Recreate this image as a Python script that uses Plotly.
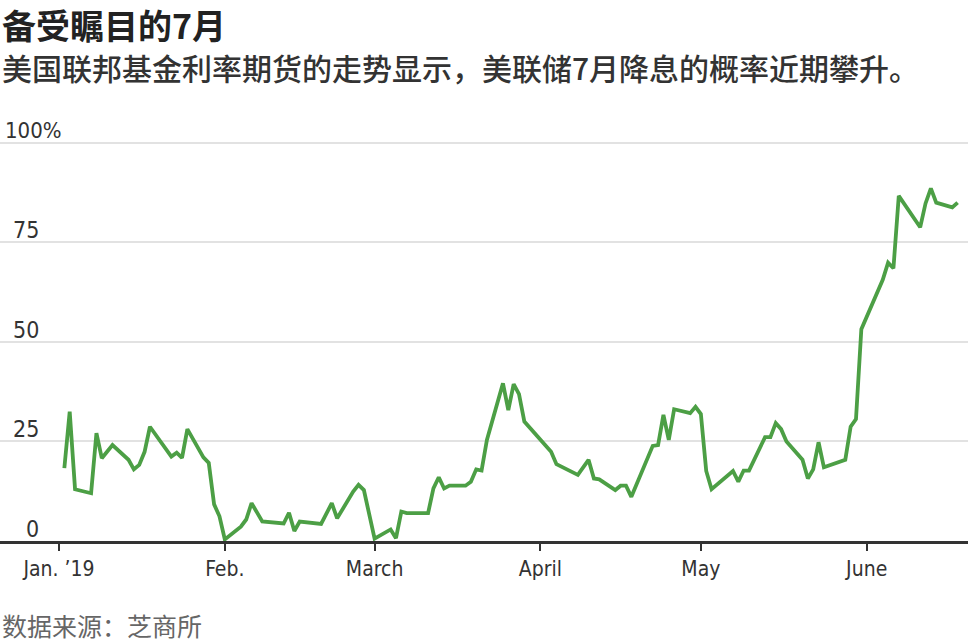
import plotly.graph_objects as go

# ---- data ----
dates = [
    "2019-01-02", "2019-01-03", "2019-01-04", "2019-01-07", "2019-01-08", "2019-01-09",
    "2019-01-11", "2019-01-14", "2019-01-15", "2019-01-16", "2019-01-17", "2019-01-18",
    "2019-01-22", "2019-01-23", "2019-01-24", "2019-01-25", "2019-01-28", "2019-01-29",
    "2019-01-30", "2019-01-31", "2019-02-01", "2019-02-04", "2019-02-05", "2019-02-06",
    "2019-02-08", "2019-02-12", "2019-02-13", "2019-02-14", "2019-02-15", "2019-02-19",
    "2019-02-21", "2019-02-22", "2019-02-25", "2019-02-26", "2019-02-27", "2019-03-01",
    "2019-03-04", "2019-03-05", "2019-03-06", "2019-03-07", "2019-03-11", "2019-03-12",
    "2019-03-13", "2019-03-14", "2019-03-15", "2019-03-18", "2019-03-19", "2019-03-20",
    "2019-03-21", "2019-03-22", "2019-03-25", "2019-03-26", "2019-03-27", "2019-03-28",
    "2019-03-29", "2019-04-02", "2019-04-03", "2019-04-04", "2019-04-08", "2019-04-10",
    "2019-04-11", "2019-04-12", "2019-04-15", "2019-04-16", "2019-04-17", "2019-04-18",
    "2019-04-22", "2019-04-23", "2019-04-24", "2019-04-25", "2019-04-26", "2019-04-29",
    "2019-04-30", "2019-05-01", "2019-05-02", "2019-05-03", "2019-05-07", "2019-05-08",
    "2019-05-09", "2019-05-10", "2019-05-13", "2019-05-14", "2019-05-15", "2019-05-16",
    "2019-05-17", "2019-05-20", "2019-05-21", "2019-05-22", "2019-05-23", "2019-05-24",
    "2019-05-28", "2019-05-29", "2019-05-30", "2019-05-31", "2019-06-04", "2019-06-05",
    "2019-06-06", "2019-06-07", "2019-06-11", "2019-06-12", "2019-06-13", "2019-06-14",
    "2019-06-17", "2019-06-18",
]
probability = [
    18.3, 32.5, 13.0, 12.0, 27.1, 20.8,
    24.1, 20.4, 18.0, 19.1, 22.4, 28.7,
    21.2, 22.2, 20.9, 28.1, 21.0, 19.6,
    9.2, 6.2, 0.4, 3.6, 5.4, 9.5,
    4.9, 4.4, 7.1, 2.5, 4.9, 4.3,
    9.5, 5.7, 12.4, 14.1, 12.8, 0.6,
    2.9, 0.7, 7.4, 7.0, 7.0, 13.2,
    16.0, 13.2, 13.9, 13.9, 14.9, 18.0,
    17.7, 25.4, 39.6, 32.9, 39.4, 36.9,
    30.0, 24.1, 22.4, 19.3, 16.6, 20.4,
    15.7, 15.5, 12.8, 13.9, 13.9, 11.1,
    23.9, 24.1, 31.7, 25.4, 33.1, 32.1,
    33.7, 31.9, 17.6, 13.0, 17.6, 14.9,
    17.7, 17.7, 26.1, 26.1, 29.6, 28.1,
    25.0, 20.4, 15.7, 18.0, 24.8, 18.5,
    20.4, 28.7, 30.6, 53.2, 65.6, 69.9,
    68.5, 86.7, 78.8, 84.8, 88.6, 85.0,
    83.8, 85.0,
]

month_ticks = ["2019-01-01", "2019-02-01", "2019-03-01", "2019-04-01", "2019-05-01", "2019-06-01"]
month_labels = ["Jan. \u201919", "Feb.", "March", "April", "May", "June"]

y_ticks = [0, 25, 50, 75, 100]
y_labels = ["0", "25", "50", "75", "100%"]

title = "备受瞩目的7月"
subtitle = "美国联邦基金利率期货的走势显示，美联储7月降息的概率近期攀升。"
source = "数据来源：芝商所"

CJK = "Noto Sans CJK SC"
NARROW = "Liberation Sans Narrow, DejaVu Sans Condensed, Roboto, sans-serif"

fig = go.Figure()
fig.add_trace(go.Scatter(
    x=dates, y=probability, mode="lines",
    line=dict(color="#4c9f45", width=3.8),
    hoverinfo="skip", showlegend=False,
))

fig.update_layout(
    width=968, height=644,
    margin=dict(l=0, r=0, t=123, b=103),
    paper_bgcolor="white", plot_bgcolor="white",
    showlegend=False,
    xaxis=dict(
        type="date",
        range=["2018-12-20 23:17", "2019-06-19 22:34"],
        tickvals=month_ticks, ticktext=month_labels,
        ticks="outside", ticklen=7, tickwidth=2, tickcolor="#333333",
        showgrid=False, zeroline=False,
        showline=True, linecolor="#333333", linewidth=2.5,
        tickfont=dict(family=NARROW, size=21, color="#333333"),
        fixedrange=True,
    ),
    yaxis=dict(
        range=[0, 105],
        tickvals=y_ticks, showticklabels=False,
        showgrid=True, gridcolor="#e2e2e2", gridwidth=2,
        zeroline=False, showline=False,
        fixedrange=True,
    ),
)

for v, lab in zip(y_ticks, y_labels):
    if lab.endswith("%"):
        fig.add_annotation(x=3 / 968, xref="paper", xanchor="left",
                           y=v, yref="y", yanchor="middle", yshift=12,
                           text=lab, showarrow=False,
                           font=dict(family=NARROW, size=22, color="#333333"))
    else:
        fig.add_annotation(x=41 / 968, xref="paper", xanchor="right",
                           y=v, yref="y", yanchor="middle", yshift=12,
                           text=lab, showarrow=False,
                           font=dict(family=NARROW, size=23, color="#333333"))

fig.add_annotation(x=0, xref="paper", y=1, yref="paper",
                   xanchor="left", yanchor="middle", showarrow=False,
                   text=title, yshift=99,
                   font=dict(family=CJK, size=34, color="#222222", weight=600))
fig.add_annotation(x=0, xref="paper", y=1, yref="paper",
                   xanchor="left", yanchor="middle", showarrow=False,
                   text=subtitle, yshift=56,
                   font=dict(family=CJK, size=30, color="#333333", weight=500))
fig.add_annotation(x=0, xref="paper", y=0, yref="paper",
                   xanchor="left", yanchor="middle", showarrow=False,
                   text=source, yshift=-84,
                   font=dict(family=CJK, size=25, color="#666666"))

fig.write_html(
    "out.html",
    config={"displayModeBar": False},
    post_script="document.body.style.margin='0';document.body.style.padding='0';",
)
